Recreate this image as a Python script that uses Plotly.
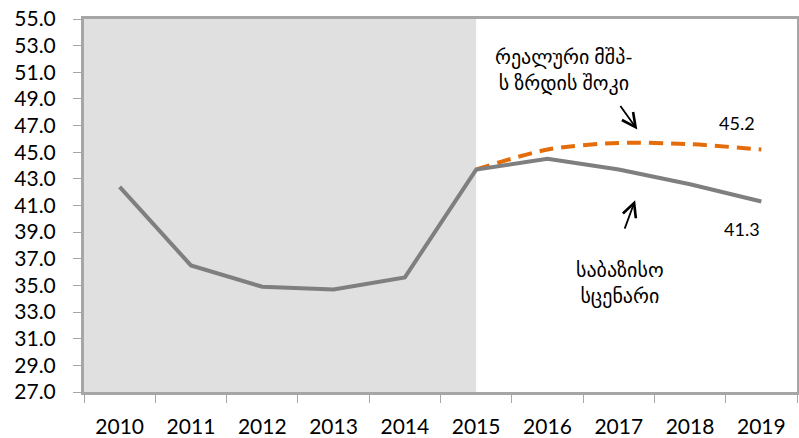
import plotly.graph_objects as go

years = ["2010", "2011", "2012", "2013", "2014", "2015", "2016", "2017", "2018", "2019"]
baseline = [42.4, 36.5, 34.9, 34.7, 35.6, 43.7, 44.5, 43.7, 42.6, 41.3]
shock_years = ["2015", "2016", "2017", "2018", "2019"]
shock = [43.7, 45.2, 45.7, 45.6, 45.2]
history_end = "2015"

y_min, y_max, y_step = 27, 55, 2
y_ticks = [y_min + i * y_step for i in range((y_max - y_min) // y_step + 1)]

shock_label = "რეალური მშპ-<br>ს ზრდის შოკი"
base_label = "საბაზისო<br>სცენარი"

FONT = "Lato, 'DejaVu Sans', sans-serif"
GREY = "#7F7F7F"
ORANGE = "#E46C0A"
FRAME = "#A6A6A6"

fig = go.Figure()

fig.add_trace(go.Scatter(
    x=shock_years, y=shock, mode="lines",
    line=dict(color=ORANGE, width=4, dash="14px,8px", shape="spline", smoothing=0.8),
    hoverinfo="skip", showlegend=False))
fig.add_trace(go.Scatter(
    x=years, y=baseline, mode="lines",
    line=dict(color=GREY, width=4),
    hoverinfo="skip", showlegend=False))

# shaded historical area
fig.add_shape(type="rect", xref="x", yref="paper",
              x0=-0.5, x1=years.index(history_end), y0=0, y1=1,
              fillcolor="#E0E0E0", line_width=0, layer="below")

# value labels
fig.add_annotation(x=8.66, y=47.2, text=f"{shock[-1]:.1f}", showarrow=False,
                   font=dict(size=18, color="black", family=FONT))
fig.add_annotation(x=8.73, y=39.2, text=f"{baseline[-1]:.1f}", showarrow=False,
                   font=dict(size=18, color="black", family=FONT))

# text labels
fig.add_annotation(x=6.23, y=51.2, text=shock_label, showarrow=False,
                   font=dict(size=20, color="black", family=FONT))
fig.add_annotation(x=7.02, y=35.2, text=base_label, showarrow=False,
                   font=dict(size=20, color="black", family=FONT))

# arrows
fig.add_annotation(x=7.26, y=46.7, ax=-18, ay=-25, text="", showarrow=True,
                   arrowhead=5, arrowsize=1.5, arrowwidth=1.8, arrowcolor="black")
fig.add_annotation(x=7.23, y=41.4, ax=-11, ay=30, text="", showarrow=True,
                   arrowhead=5, arrowsize=1.5, arrowwidth=1.8, arrowcolor="black")

fig.update_layout(
    width=799, height=438,
    margin=dict(l=84, r=2, t=19, b=46, autoexpand=False),
    paper_bgcolor="white", plot_bgcolor="white",
    font=dict(family=FONT, color="black"),
)
fig.update_xaxes(
    type="category", categoryorder="array", categoryarray=years,
    range=[-0.5, 9.5], tickson="boundaries",
    ticks="outside", ticklen=8, tickcolor=FRAME, tickwidth=1,
    showline=True, linecolor=FRAME, linewidth=3, mirror=True,
    showgrid=False, zeroline=False, automargin=False,
    tickfont=dict(size=21, family=FONT, color="black"),
    ticklabelstandoff=14,
)
fig.update_yaxes(
    range=[y_min, y_max], tickvals=y_ticks, tickformat=".1f",
    ticks="outside", ticklen=8, tickcolor=FRAME, tickwidth=1,
    showline=True, linecolor=FRAME, linewidth=3, mirror=True,
    showgrid=False, zeroline=False, automargin=False,
    tickfont=dict(size=21, family=FONT, color="black"),
    ticklabelstandoff=13,
)

fig.write_html(
    "out.html",
    config={"displayModeBar": False},
    post_script="document.body.style.margin='0';document.body.style.overflow='hidden';",
)
